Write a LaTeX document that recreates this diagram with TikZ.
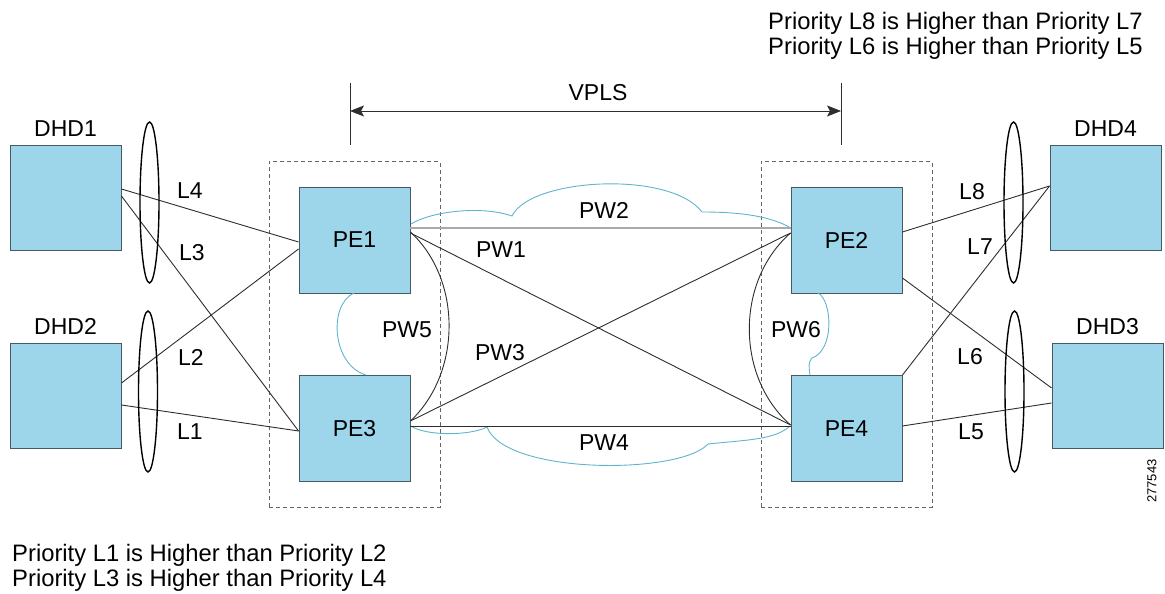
\documentclass[tikz,border=0pt]{standalone}
\usepackage{fontspec}
\setmainfont{Liberation Sans}
\usepackage{tikz}
\usetikzlibrary{fit,positioning,arrows.meta,shapes.geometric}
\definecolor{boxblue}{RGB}{157,214,234}
\definecolor{boxline}{RGB}{70,90,100}
\definecolor{cloudcyan}{RGB}{95,180,205}
\definecolor{wire}{RGB}{45,45,45}
\definecolor{pwgray}{RGB}{170,170,170}
\definecolor{framegray}{RGB}{100,100,100}

\begin{document}
\begin{tikzpicture}[x=1pt,y=1pt,font=\fontsize{23}{25}\selectfont,
    dhd/.style={draw=boxline,fill=boxblue,line width=0.9pt,minimum width=111pt,minimum height=105pt,inner sep=0pt},
    pe/.style={dhd,minimum height=106pt},
    site/.style={draw=framegray,dash pattern=on 4pt off 3pt,line width=0.8pt,inner xsep=29.5pt,inner ysep=25pt},
    lag/.style={draw,ellipse,line width=1.4pt,minimum width=19pt,minimum height=161pt,inner sep=0pt},
    link/.style={draw=wire,line width=0.9pt},
    pwmain/.style={draw=pwgray,line width=2.6pt},
    cloudline/.style={draw=cloudcyan,line width=0.9pt},
    span/.style={link,>={Stealth[length=14pt,width=11pt,inset=3pt]}},
    lbl/.style={inner sep=0pt},
    note/.style={inner sep=0pt,align=left,anchor=west,font=\fontsize{23.8}{25}\selectfont}]
    \useasboundingbox (0,0) rectangle (1165,594);

    \node[dhd] (dhd1) at (65.5,396.5)  {};
    \node[dhd] (dhd2) at (65.5,198.5)  {};
    \node[dhd] (dhd4) at (1105.5,396.5) {};
    \node[dhd] (dhd3) at (1107.5,198.5) {};
    \node[lbl] (dhd1lbl) [above=8pt of dhd1] {DHD1};
    \node[lbl] (dhd2lbl) [above=8pt of dhd2] {DHD2};
    \node[lbl] (dhd4lbl) [above=8pt of dhd4] {DHD4};
    \node[lbl] (dhd3lbl) [above=8pt of dhd3] {DHD3};

    \node[pe] (pe1) at (354.5,354)   {PE1};
    \node[pe] (pe3) at (354.5,165.5) {PE3};
    \node[pe] (pe2) at (846.5,354)   {PE2};
    \node[pe] (pe4) at (846.5,165.5) {PE4};
    \node[site,fit=(pe1)(pe3)] (siteA) {};
    \node[site,fit=(pe2)(pe4)] (siteB) {};

    \draw[cloudline] (411,370) .. controls (430,382) and (480,389) .. (512,378)
        .. controls (530,416) and (670,424) .. (702,382)
        .. controls (740,382) and (770,378) .. (791,366);
    \draw[cloudline] (411,168) .. controls (425,158) and (470,158) .. (487,167)
        .. controls (505,119) and (680,119) .. (708,150)
        .. controls (745,154) and (775,154) .. (790,168);
    \draw[cloudline] (354,301) .. controls (328,289) and (332,229) .. (366,219);
    \draw[cloudline] (818,301) .. controls (832,294) and (835,244) .. (812,236)
        .. controls (808,232) and (809,226) .. (810,219);

    \path[link]
      ([yshift=8.5pt]dhd1.east)  edge ([yshift=-2pt]pe1.west)
      ([yshift=1.5pt]dhd1.east)  edge ([yshift=-2.5pt]pe3.west)
      ([yshift=12.5pt]dhd2.east) edge ([yshift=-9pt]pe1.west)
      ([yshift=-9.5pt]dhd2.east) edge ([yshift=-2.5pt]pe3.west)
      ([yshift=8pt]pe2.east)     edge ([yshift=11.5pt]dhd4.west)
      (pe4.north east)           edge ([yshift=11.5pt]dhd4.west)
      ([yshift=-38pt]pe2.east)   edge ([yshift=7.5pt]dhd3.west)
      ([yshift=2.5pt]pe4.east)   edge ([yshift=-7.5pt]dhd3.west);

    \path[link]
      ([yshift=7pt]pe1.east)   edge ([yshift=3.5pt]pe4.west)
      ([yshift=7.5pt]pe3.east) edge ([yshift=7pt]pe2.west)
      ([yshift=2.5pt]pe3.east) edge ([yshift=2.5pt]pe4.west);
    \draw[pwmain] ([yshift=12pt]pe1.east) -- ([yshift=12pt]pe2.west);
    \draw[link] ([yshift=8pt]pe1.east) .. controls +(52,-48) and +(51,48) .. ([yshift=7.5pt]pe3.east);
    \draw[link] ([yshift=7pt]pe2.west) .. controls +(-55,-48) and +(-55,48) .. ([yshift=3.5pt]pe4.west);

    \node[lag] (lag1) at (149.5,391.5) {};
    \node[lag] (lag2) at (148,202.5)   {};
    \node[lag] (lag4) at (1013.5,391.5) {};
    \node[lag] (lag3) at (1014.5,202.5) {};

    \node[lbl] (l4) at (190,403) {L4};
    \node[lbl] (l3) at (192,341) {L3};
    \node[lbl] (l2) at (191,237) {L2};
    \node[lbl] (l1) at (190,162) {L1};
    \node[lbl] (l8) at (972,402) {L8};
    \node[lbl] (l7) at (980,347) {L7};
    \node[lbl] (l6) at (970,237) {L6};
    \node[lbl] (l5) at (971,162) {L5};

    \node[lbl] (pw2) at (604,384) {PW2};
    \node[lbl] (pw1) at (501,344) {PW1};
    \node[lbl] (pw3) at (500,241) {PW3};
    \node[lbl] (pw4) at (604,151) {PW4};
    \node[lbl] (pw5) at (407,264) {PW5};
    \node[lbl] (pw6) at (796,264) {PW6};

    \coordinate (vplsL) at (350,483);
    \coordinate (vplsR) at (841,483);
    \draw[link] ([yshift=28pt]vplsL) -- ([yshift=-34pt]vplsL);
    \draw[link] ([yshift=28pt]vplsR) -- ([yshift=-34pt]vplsR);
    \draw[span,<->] (vplsL) -- (vplsR);
    \node[lbl] (vpls) at (598,501) {VPLS};

    \node[note] (prioR) at (768,558.3) {Priority L8 is Higher than Priority L7\\Priority L6 is Higher than Priority L5};
    \node[note] (prioL) at (12,26.3) {Priority L1 is Higher than Priority L2\\Priority L3 is Higher than Priority L4};
    \node[lbl,rotate=90,font=\fontsize{13}{15}\selectfont] (figid) at (1152,113) {277543};
\end{tikzpicture}
\end{document}
